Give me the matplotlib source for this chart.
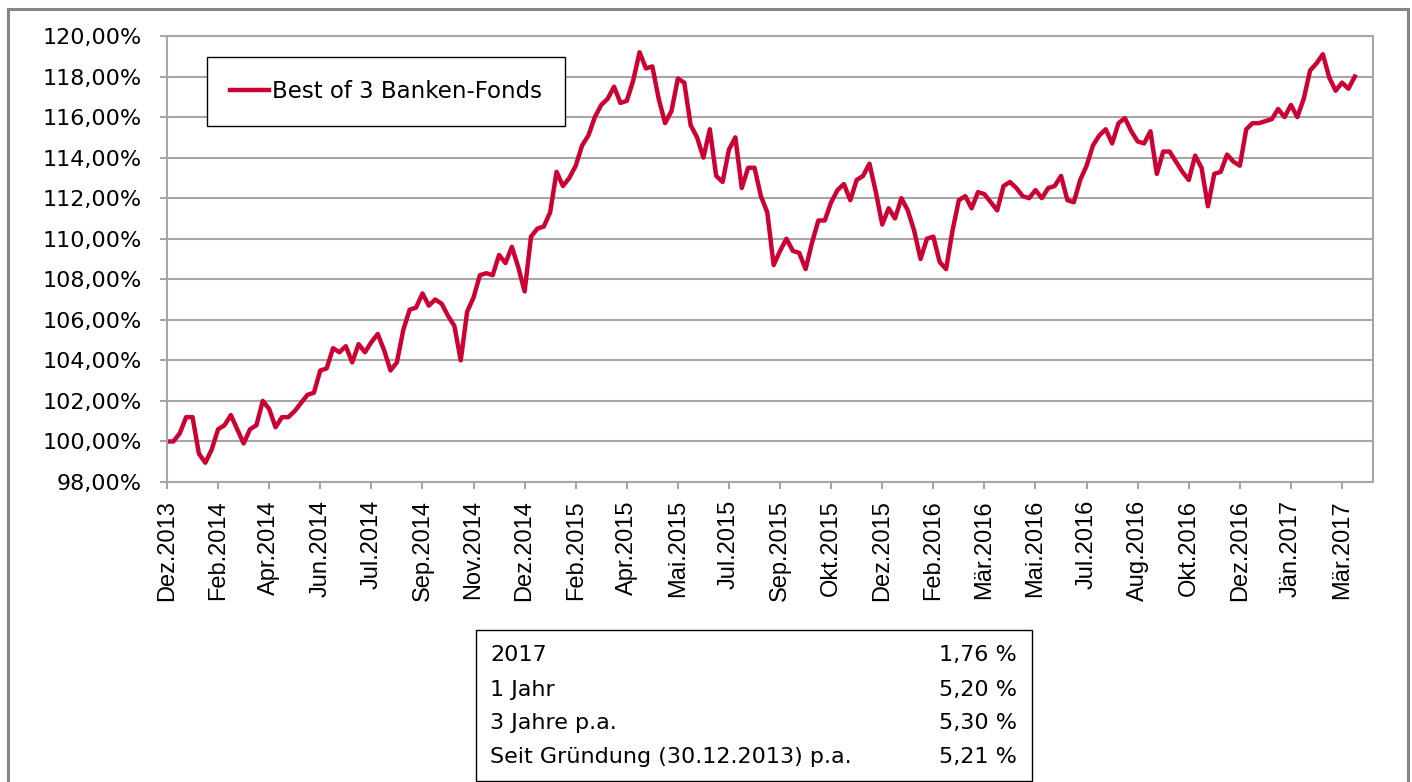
import matplotlib
matplotlib.use("Agg")
import matplotlib.pyplot as plt
from matplotlib.patches import Rectangle
from matplotlib.ticker import FuncFormatter

fund_name = "Best of 3 Banken-Fonds"

# one tick label every 8 points on the category axis
tick_every = 8
tick_labels = ["Dez.2013", "Feb.2014", "Apr.2014", "Jun.2014", "Jul.2014", "Sep.2014",
               "Nov.2014", "Dez.2014", "Feb.2015", "Apr.2015", "Mai.2015", "Jul.2015",
               "Sep.2015", "Okt.2015", "Dez.2015", "Feb.2016", "Mär.2016", "Mai.2016",
               "Jul.2016", "Aug.2016", "Okt.2016", "Dez.2016", "Jän.2017", "Mär.2017"]

# fund value in %
values = [
    100.0, 100.0, 100.4, 101.2, 101.2, 99.4, 98.95, 99.6, 100.6, 100.8,
    101.3, 100.6, 99.9, 100.6, 100.8, 102.0, 101.6, 100.7, 101.2, 101.2,
    101.5, 101.9, 102.3, 102.4, 103.5, 103.6, 104.6, 104.4, 104.7, 103.9,
    104.8, 104.4, 104.9, 105.3, 104.5, 103.5, 103.9, 105.5, 106.5, 106.6,
    107.3, 106.7, 107.0, 106.8, 106.2, 105.7, 104.0, 106.4, 107.1, 108.2,
    108.3, 108.2, 109.2, 108.8, 109.6, 108.6, 107.4, 110.1, 110.5, 110.6,
    111.3, 113.3, 112.6, 113.0, 113.6, 114.6, 115.1, 116.0, 116.6, 116.9,
    117.5, 116.7, 116.8, 117.8, 119.2, 118.4, 118.5, 116.9, 115.7, 116.3,
    117.9, 117.7, 115.6, 115.0, 114.0, 115.4, 113.1, 112.8, 114.4, 115.0,
    112.5, 113.5, 113.5, 112.1, 111.3, 108.7, 109.4, 110.0, 109.4, 109.3,
    108.5, 109.8, 110.9, 110.9, 111.8, 112.4, 112.7, 111.9, 112.9, 113.1,
    113.7, 112.3, 110.7, 111.5, 111.0, 112.0, 111.4, 110.4, 109.0, 110.0,
    110.1, 108.85, 108.5, 110.4, 111.9, 112.1, 111.5, 112.3, 112.2, 111.8,
    111.4, 112.6, 112.8, 112.5, 112.1, 112.0, 112.4, 112.0, 112.5, 112.6,
    113.1, 111.9, 111.8, 112.9, 113.6, 114.6, 115.1, 115.4, 114.7, 115.7,
    115.95, 115.3, 114.8, 114.7, 115.3, 113.2, 114.3, 114.3, 113.8, 113.3,
    112.9, 114.1, 113.5, 111.6, 113.2, 113.3, 114.15, 113.8, 113.6, 115.4,
    115.7, 115.7, 115.8, 115.9, 116.4, 116.0, 116.6, 116.0, 116.9, 118.3,
    118.65, 119.1, 117.95, 117.3, 117.7, 117.4, 118.0,
]

table_labels = ["2017", "1 Jahr", "3 Jahre p.a.", "Seit Gründung (30.12.2013) p.a."]
table_values = ["1,76 %", "5,20 %", "5,30 %", "5,21 %"]

plt.rcParams['font.family'] = ['DejaVu Sans']
W, H = 1412, 782
fig = plt.figure(figsize=(W / 100, H / 100), dpi=100)
ax = fig.add_axes([167 / W, 1 - 482 / H, (1373 - 167) / W, (482 - 36) / H])

grey = '#A6A6A6'
x = list(range(len(values)))
ax.plot(x, values, color='#CC0033', lw=3.2, label=fund_name, solid_joinstyle='round')

ax.set_ylim(98, 120)
ax.set_yticks(range(98, 121, 2))
ax.yaxis.set_major_formatter(FuncFormatter(lambda v, p: f"{v:.2f}".replace('.', ',') + '%'))
ax.set_xlim(0, 188.85)
ax.set_xticks(range(0, tick_every * len(tick_labels), tick_every))
ax.set_xticklabels(tick_labels, rotation=90, family='Liberation Sans', fontsize=17)

ax.grid(axis='y', color=grey, lw=1.5)
ax.set_axisbelow(True)
for s in ax.spines.values():
    s.set_color(grey)
    s.set_linewidth(1.5)
ax.tick_params(axis='both', colors=grey, labelcolor='black',
               length=5, width=1.5, direction='out')
ax.tick_params(axis='y', pad=13, labelsize=16)
ax.tick_params(axis='x', pad=8)

leg = ax.legend(loc='upper left', bbox_to_anchor=(0.0332, 0.953), borderaxespad=0,
                fontsize=16.5, frameon=True, fancybox=False, edgecolor='black',
                framealpha=1, handlelength=1.7, handletextpad=0.15, borderpad=1.0)
leg.get_frame().set_linewidth(1.0)

# performance table under the chart
tbl = Rectangle((476 / W, 1 - 781 / H), (1032 - 476) / W, (781 - 630) / H,
                transform=fig.transFigure, fill=False, edgecolor='black', lw=1.0)
fig.patches.append(tbl)
row_y = [655, 690, 723, 757]
for lab, val, yy in zip(table_labels, table_values, row_y):
    fig.text(490 / W, 1 - yy / H, lab, fontsize=16, ha='left', va='center')
    fig.text(1017 / W, 1 - yy / H, val, fontsize=16, ha='right', va='center')

# outer frame
frame = Rectangle((8 / W, -0.05), (1408 - 8) / W, 1.05 - 9 / H,
                  transform=fig.transFigure, fill=False, edgecolor='#868686', lw=2.2)
fig.patches.append(frame)

fig.savefig('out.png', dpi=100)
